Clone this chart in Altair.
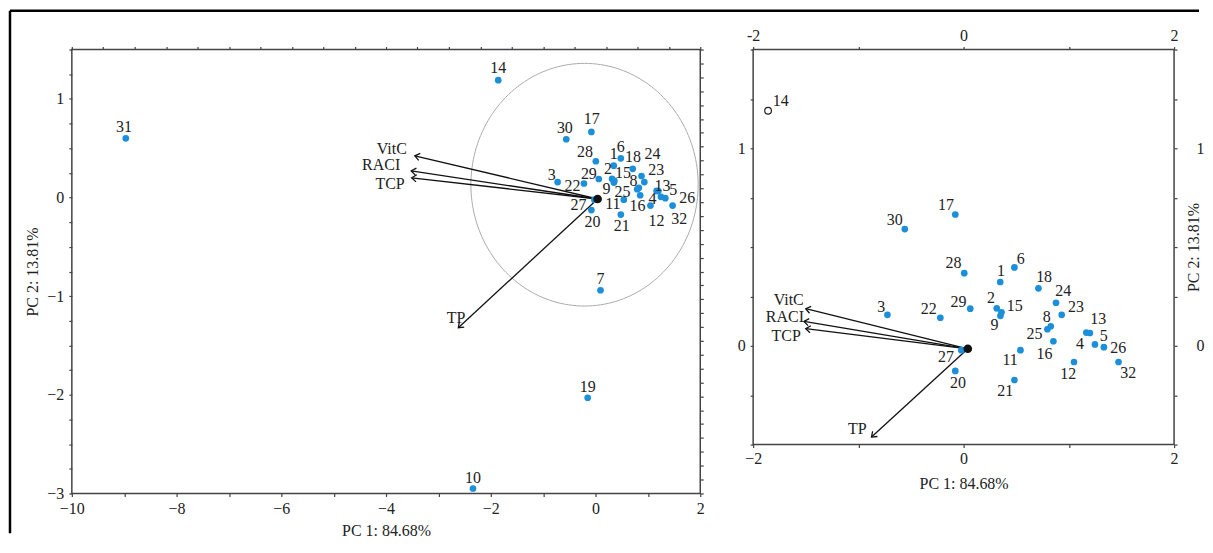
import math
import altair as alt
import pandas as pd

# ---------------- data ----------------
sample_ids = list(range(1, 33))
pc1_scores = [0.348, 0.315, -0.724, 1.248, 1.200, 0.483, 0.095, 0.828, 0.350, -2.340,
              0.540, 1.049, 1.166, -1.858, 0.360, 0.853, -0.079, 0.711, -0.150, -0.079,
              0.483, -0.221, 0.932, 0.878, 0.796, 1.333, -0.022, 0.006, 0.063, -0.559,
              -8.970, 1.472]
pc2_scores = [0.323, 0.190, 0.157, 0.007, 0.065, 0.397, -0.940, 0.099, 0.152, -2.950,
              -0.022, -0.082, 0.067, 1.190, 0.170, 0.023, 0.665, 0.291, -2.030, -0.127,
              -0.173, 0.142, 0.157, 0.218, 0.084, -0.007, -0.022, 0.368, 0.188, 0.591,
              0.600, -0.082]
open_in_zoom = [14]

variables = ["VitC", "RACI", "TCP", "TP"]
load_pc1_full = [-3.45, -3.52, -3.51, -2.62]
load_pc2_full = [0.423, 0.270, 0.200, -1.320]
load_pc1_zoom = [-1.500, -1.517, -1.500, -0.875]
load_pc2_zoom = [0.188, 0.124, 0.087, -0.462]
origin_pc1 = [0.04]
origin_pc2 = [-0.015]

# confidence ellipse (centre and semi-axes, data units)
ELL_CX, ELL_CY, ELL_A, ELL_B = -0.21, 0.13, 2.17, 1.23

# ---------------- style ----------------
FONT = "Liberation Serif"
FS = 16
BLUE = "#1b8fd9"
INK = "#222222"
CHEVRON = "M-0.75,1 L0,0 L0.75,1"
# label-centre offsets from each point, in pixels (full view / zoomed view)
lab_dx_full = [0, -4, -6, -8.5, 15, 0, 0, -5.5, -7.5, 0, -11, 6, 6, 0, 8.6, -2.8,
               0.4, 0.2, 0, 1, 1, -11.4, 12, 11, -14.8, 22, -16, -11, -10, -1.4, -1.7, 6.7]
lab_dy_full = [-12, -10, -7.5, 1.7, -1.6, -11.7, -11, -7.2, 6, -11, 4.8, 15, -5.4, -11.7,
               -8.2, 10.3, -12.5, -12.2, -11, 12.4, 11, 2, -12, -22, 2.3, -0.7, 5.8,
               -9.6, -5.4, -11, -11.7, 13]
lab_dx_zoom = [0.7, -5.7, -6.3, -15, 14, 6.3, 0, -4, -6, 0, -10.3, -5.7, 12, 12.7, 13.3,
               -9, -9.3, 5.7, 0, 2.7, -9.3, -11.7, 14.3, 7.3, -13, 14.3, -15.3, -10.7,
               -11.7, -10, 0, 9.7]
lab_dy_zoom = [-11.3, -10, -7.7, 0, 3, -8.3, -11, -9.3, 9.3, -11, 10, 12.3, -13.5, -10.3,
               -6, 12.3, -9, -11.3, -11, 12.3, 11, -9, -8.3, -11.3, 5, 1.3, 7.3, -9.7,
               -6.7, -8.7, -11, 11.3]
ARROW_LABEL_FULL = {"VitC": (-8, -7), "RACI": (-11, -6), "TCP": (-7, 6), "TP": (7, -10)}
ARROW_LABEL_ZOOM = {"VitC": (-2, -9), "RACI": (0, -4), "TCP": (-5, 7), "TP": (-5, -8)}
LABEL_OFFSETS = {"full": list(zip(lab_dx_full, lab_dy_full)),
                 "zoom": list(zip(lab_dx_zoom, lab_dy_zoom))}

scores = pd.DataFrame({"id": sample_ids, "pc1": pc1_scores, "pc2": pc2_scores})
scores["label"] = scores["id"].astype(str)
scores["open_zoom"] = scores["id"].isin(open_in_zoom)
origin = pd.DataFrame({"pc1": origin_pc1, "pc2": origin_pc2})


def arrows_df(lx, ly, sx, sy):
    rows = []
    for v, x1, y1 in zip(variables, lx, ly):
        dx, dy = x1 - origin_pc1[0], y1 - origin_pc2[0]
        ang = math.degrees(math.atan2(dx * sx, dy * sy)) % 360
        rows.append({"var": v, "x0": origin_pc1[0], "y0": origin_pc2[0],
                     "pc1": x1, "pc2": y1, "angle": ang})
    return pd.DataFrame(rows)


def panel(xdom, ydom, w, h, tag, arrows, arrow_lab, axes, zoom):
    clip = zoom
    xs = alt.Scale(domain=xdom, nice=False, zero=False)
    ys = alt.Scale(domain=ydom, nice=False, zero=False)
    X = lambda f: alt.X(f, type="quantitative", scale=xs, axis=None)
    Y = lambda f: alt.Y(f, type="quantitative", scale=ys, axis=None)
    in_view = (f"datum.pc1 >= {xdom[0]} && datum.pc1 <= {xdom[1]} && "
               f"datum.pc2 >= {ydom[0]} && datum.pc2 <= {ydom[1]}")
    sc = alt.Chart(scores).transform_filter(in_view)
    layers = []
    if not zoom:
        ell = (alt.Chart(alt.sequence(0, 362, 2, as_="t"))
               .transform_calculate(ex=f"{ELL_CX} + {ELL_A} * cos(datum.t * PI / 180)",
                                    ey=f"{ELL_CY} + {ELL_B} * sin(datum.t * PI / 180)")
               .mark_line(color="#ababab", strokeWidth=1)
               .encode(x=X("ex"), y=Y("ey"), order="t:Q"))
        layers.append(ell)
    layers.append(alt.Chart(arrows).mark_rule(color="#111", strokeWidth=1.3, clip=clip)
                  .encode(x=X("x0"), y=Y("y0"), x2="pc1:Q", y2="pc2:Q"))
    layers.append(alt.Chart(arrows).mark_point(shape=CHEVRON, filled=False, color="#111",
                                               strokeWidth=1.3, size=90, opacity=1, clip=clip)
                  .encode(x=X("pc1"), y=Y("pc2"), angle=alt.Angle("angle:Q", scale=None)))
    # points (carry main axes)
    pts = sc
    if zoom:
        pts = pts.transform_filter("!datum.open_zoom")
    layers.append(pts.mark_circle(size=45, color=BLUE, opacity=1, clip=clip)
                  .encode(x=alt.X("pc1:Q", scale=xs, axis=axes["bottom"]),
                          y=alt.Y("pc2:Q", scale=ys, axis=axes["left"])))
    if zoom:
        layers.append(sc.transform_filter("datum.open_zoom")
                      .mark_point(size=45, filled=False, color=INK, strokeWidth=1.2,
                                  opacity=1, clip=clip)
                      .encode(x=X("pc1"), y=Y("pc2")))
    layers.append(alt.Chart(origin).mark_circle(size=75, color="#111", opacity=1)
                  .encode(x=X("pc1"), y=Y("pc2")))
    for sid, px, py, (dx, dy) in zip(sample_ids, pc1_scores, pc2_scores, LABEL_OFFSETS[tag]):
        if not (xdom[0] <= px <= xdom[1] and ydom[0] <= py <= ydom[1]):
            continue
        layers.append(sc.transform_filter(alt.datum.id == sid)
                      .mark_text(align="center", baseline="middle", dx=dx, dy=dy, font=FONT,
                                 fontSize=FS, color=INK, clip=clip)
                      .encode(x=X("pc1"), y=Y("pc2"), text="label:N"))
    for v in variables:
        dx, dy = arrow_lab[v]
        layers.append(alt.Chart(arrows).transform_filter(alt.datum.var == v)
                      .mark_text(align="right", baseline="middle", dx=dx, dy=dy, font=FONT,
                                 fontSize=FS, color=INK, clip=clip)
                      .encode(x=X("pc1"), y=Y("pc2"), text="var:N"))
    # secondary axes (top / right)
    layers.append(alt.Chart(origin).mark_point(opacity=0)
                  .encode(x=alt.X("pc1:Q", scale=xs, axis=axes["top"]),
                          y=alt.Y("pc2:Q", scale=ys, axis=axes["right"])))
    if not zoom:
        one = pd.DataFrame({"k": [0]})
        layers.append(alt.Chart(one).mark_rule(color="black", strokeWidth=2.5)
                      .encode(x=alt.value(-62), x2=alt.value(1130), y=alt.value(-39)))
        layers.append(alt.Chart(one).mark_rule(color="black", strokeWidth=2.5)
                      .encode(x=alt.value(-62), y=alt.value(-39), y2=alt.value(485)))
    return (alt.layer(*layers).resolve_axis(x="independent", y="independent")
            .properties(width=w, height=h))


INT_ONLY = "datum.value % 1 == 0 ? format(datum.value, 'd') : ''"
EVEN_ONLY = "datum.value % 2 == 0 ? format(datum.value, 'd') : ''"

W1, H1 = 630, 445
axes_full = {
    "bottom": alt.Axis(orient="bottom", values=list(range(-10, 3)), labelExpr=EVEN_ONLY,
                       labelFlush=False, labelOverlap=False, labelPadding=4,
                       title="PC 1: 84.68%", titleY=37, titleBaseline="middle"),
    "left": alt.Axis(orient="left", values=[-3 + 0.25 * k for k in range(19)],
                     labelExpr=INT_ONLY, labelFlush=False, labelOverlap=False, labelPadding=5,
                     title="PC 2: 13.81%", titleAngle=270, titleX=-39, titleY=H1 / 2,
                     titleBaseline="middle", titleAlign="center"),
    "top": alt.Axis(orient="top", values=[round(-10 + 0.6 * k, 4) for k in range(21)],
                    labels=False, title=None),
    "right": alt.Axis(orient="right", values=[round(-3 + 4.5 / 32 * k, 4) for k in range(33)],
                      labels=False, title=None),
}
left = panel([-10, 2], [-3, 1.5], W1, H1, "full",
             arrows_df(load_pc1_full, load_pc2_full, W1 / 12, H1 / 4.5),
             ARROW_LABEL_FULL, axes_full, zoom=False)

W2, H2 = 422, 396
yvals2 = [-0.5 + 0.25 * k for k in range(9)]
axes_zoom = {
    "bottom": alt.Axis(orient="bottom", values=[-2, -1, 0, 1, 2], labelExpr=EVEN_ONLY,
                       labelFlush=False, labelOverlap=False, labelPadding=3,
                       title="PC 1: 84.68%", titleY=39, titleBaseline="middle"),
    "left": alt.Axis(orient="left", values=yvals2, labelExpr=INT_ONLY, labelFlush=False,
                     labelOverlap=False, labelPadding=5, title=None),
    "top": alt.Axis(orient="top", values=[-2, -1, 0, 1, 2],
                    labelExpr="datum.value % 2 == 0 ? replace(format(datum.value, 'd'), '\u2212', '-') : ''",
                    labelFlush=False, labelOverlap=False, labelPadding=3, title=None),
    "right": alt.Axis(orient="right", values=yvals2, labelExpr=INT_ONLY, labelFlush=False,
                      labelOverlap=False, labelPadding=19, title="PC 2: 13.81%",
                      titleAngle=270, titleX=19, titleY=H2 / 2, titleBaseline="middle",
                      titleAlign="center"),
}
right = panel([-2, 2], [-0.5, 1.5], W2, H2, "zoom",
              arrows_df(load_pc1_zoom, load_pc2_zoom, W2 / 4, H2 / 2),
              ARROW_LABEL_ZOOM, axes_zoom, zoom=True)

chart = (alt.hconcat(left, right, spacing=53, bounds="flush")
         .properties(padding=0)
         .configure_view(stroke="#444", strokeWidth=1.5)
         .configure_axis(labelFont=FONT, titleFont=FONT, labelFontSize=FS, titleFontSize=FS,
                         titleFontWeight="normal", labelColor=INK, titleColor=INK,
                         tickColor="#444", tickSize=3, tickWidth=1.2, domain=False, grid=False))

chart.save("out.html", embed_options={"renderer": "svg", "actions": False})
